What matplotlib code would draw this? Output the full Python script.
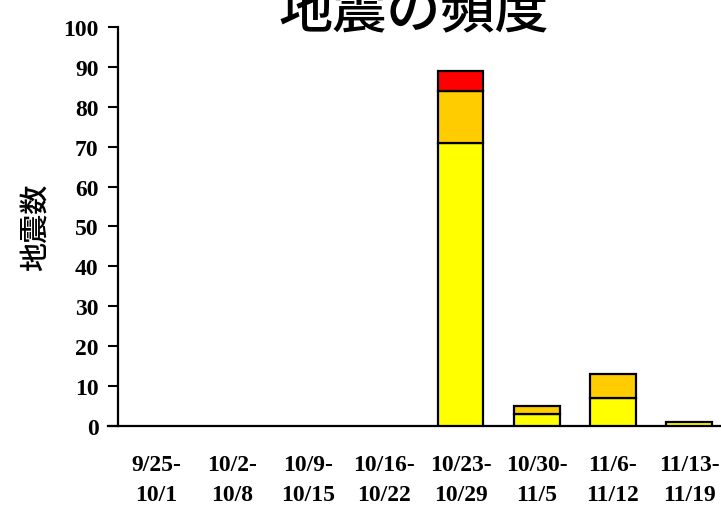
import matplotlib
matplotlib.use("Agg")
import matplotlib.pyplot as plt
import numpy as np

plt.rcParams['font.family'] = ['Noto Sans CJK JP', 'DejaVu Sans']

weeks = ['9/25-\n10/1', '10/2-\n10/8', '10/9-\n10/15', '10/16-\n10/22',
         '10/23-\n10/29', '10/30-\n11/5', '11/6-\n11/12', '11/13-\n11/19']
low = [0, 0, 0, 0, 71, 3, 7, 1]
mid = [0, 0, 0, 0, 13, 2, 6, 0]
high = [0, 0, 0, 0, 5, 0, 0, 0]

fig = plt.figure(figsize=(7.21, 5.06), dpi=100)
ax = fig.add_axes([0.1637, 0.156, 0.8363, 0.789])

x = np.arange(len(weeks))
w = 0.6
b1 = np.array(low)
b2 = b1 + np.array(mid)
for vals, bottom, col in [(low, None, '#ffff00'), (mid, b1, '#ffcc00'), (high, b2, '#ff0000')]:
    v = np.array(vals)
    m = v > 0
    ax.bar(x[m], v[m], w, bottom=None if bottom is None else bottom[m],
           color=col, edgecolor='black', linewidth=1.6, zorder=3)

ax.set_xlim(-0.5, 7.42)
ax.set_ylim(0, 100)
ax.set_yticks(range(0, 101, 10))
ax.set_xticks(x)
ax.set_xticklabels(weeks, family=['Liberation Serif'], fontsize=17,
                   fontweight='bold', linespacing=1.6)
for lab in ax.get_yticklabels():
    lab.set_family(['Liberation Serif'])
    lab.set_fontsize(17)
    lab.set_fontweight('bold')
ax.tick_params(axis='x', length=0, pad=20)
ax.tick_params(axis='y', length=7, width=1.5, direction='out', pad=7)

for s in ['top', 'right']:
    ax.spines[s].set_visible(False)
ax.spines['left'].set_linewidth(1.6)
ax.spines['bottom'].set_linewidth(1.6)
ax.spines['bottom'].set_bounds(-0.63, 7.42)

ax.set_ylabel('地震数', fontsize=21, fontweight='medium', labelpad=9)
fig.text(0.574, 0.975, '地震の頻度', fontsize=39, fontweight='medium',
         ha='center', va='center')

fig.savefig('out.png', dpi=100)
